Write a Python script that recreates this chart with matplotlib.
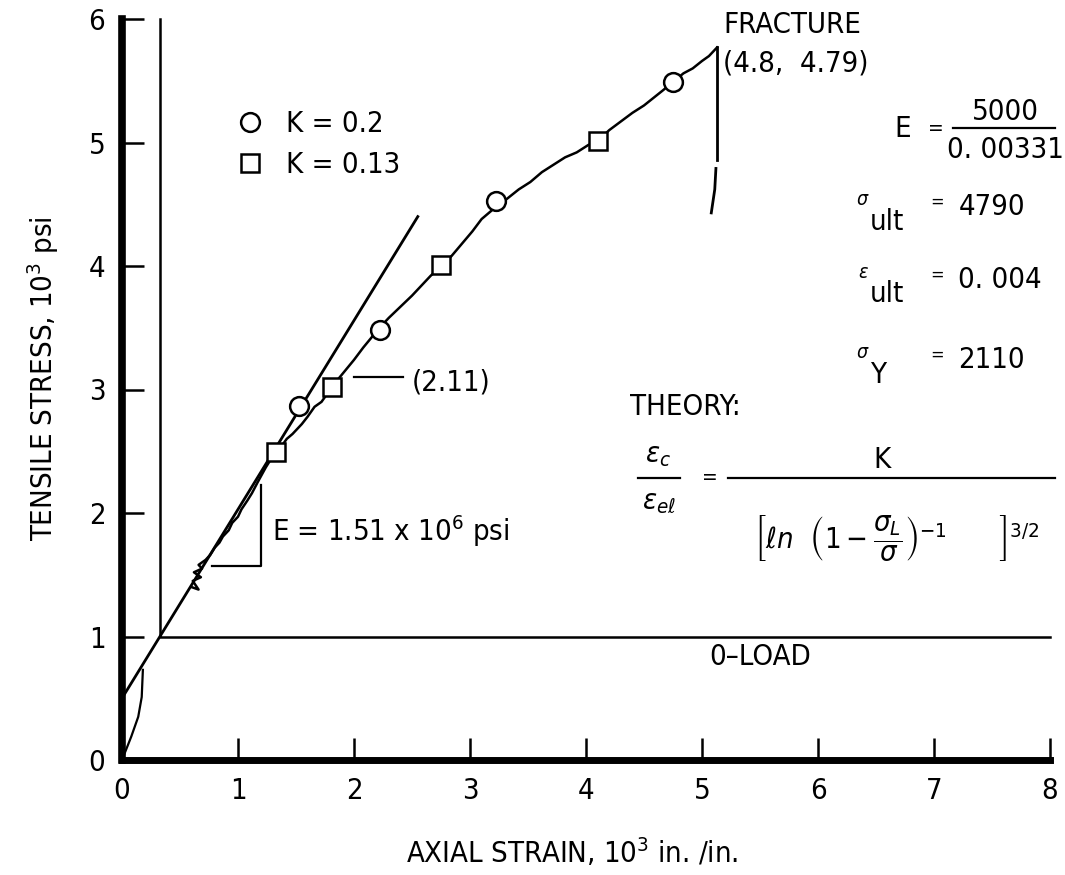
import matplotlib
matplotlib.use("Agg")
import matplotlib.pyplot as plt
from matplotlib import font_manager

# pick a narrow sans face if one is installed (the scanned lettering is condensed)
FONT, STRETCH, FS = 'DejaVu Sans', 'normal', 18
for f in font_manager.fontManager.ttflist:
    if f.style == 'normal' and f.weight in (400, 'normal') and f.stretch in ('condensed', 'semi-condensed'):
        FONT, STRETCH, FS = f.name, f.stretch, 21
        break
plt.rcParams['font.family'] = [FONT, 'DejaVu Sans']
plt.rcParams['font.stretch'] = STRETCH

# toe of the curve near the origin
toe_x = [0.0, 0.08, 0.14, 0.17, 0.18]
toe_y = [0.0, 0.19, 0.35, 0.51, 0.73]

# modulus line E = 1.51 x 10^6 psi
mod_x = [0.0, 2.55]
mod_y = [0.50, 4.40]

# measured stress-strain record (jagged)
strain = [0.60, 0.66, 0.61, 0.68, 0.62, 0.69, 0.66, 0.72, 0.76, 0.80, 0.84, 0.87, 0.92,
          0.95, 1.00, 1.03, 1.08, 1.12, 1.17, 1.24, 1.30, 1.36, 1.42, 1.47, 1.55, 1.60,
          1.66, 1.72, 1.78, 1.86, 1.93, 2.00, 2.08, 2.15, 2.20, 2.30, 2.40, 2.50, 2.58,
          2.66, 2.75, 2.84, 2.93, 3.02, 3.10, 3.20, 3.30, 3.42, 3.52, 3.62, 3.72, 3.82,
          3.92, 4.02, 4.10, 4.20, 4.30, 4.40, 4.50, 4.58, 4.66, 4.75, 4.84, 4.92, 5.00,
          5.06, 5.13]
stress = [1.40, 1.38, 1.45, 1.48, 1.52, 1.55, 1.58, 1.62, 1.66, 1.72, 1.76, 1.81, 1.86,
          1.92, 1.97, 2.03, 2.10, 2.16, 2.25, 2.37, 2.46, 2.52, 2.60, 2.64, 2.72, 2.78,
          2.86, 2.90, 2.98, 3.08, 3.16, 3.24, 3.34, 3.42, 3.48, 3.58, 3.67, 3.76, 3.84,
          3.92, 4.00, 4.08, 4.18, 4.28, 4.38, 4.46, 4.53, 4.62, 4.68, 4.76, 4.82, 4.88,
          4.92, 4.98, 5.01, 5.10, 5.17, 5.24, 5.30, 5.36, 5.42, 5.49, 5.56, 5.60, 5.66,
          5.70, 5.77]

# theory points
k02_x = [1.53, 2.22, 3.22, 4.75]
k02_y = [2.87, 3.48, 4.53, 5.49]
k013_x = [1.33, 1.81, 2.75, 4.10]
k013_y = [2.49, 3.02, 4.01, 5.01]

# reference lines (shifted origin, 0-load)
zero_x = [0.33, 0.33, 8.0]
zero_y = [6.0, 1.0, 1.0]

# fracture bracket
frac1_x = [5.13, 5.13]
frac1_y = [5.77, 4.86]
frac2_x = [5.12, 5.11, 5.08]
frac2_y = [4.79, 4.62, 4.43]

fig = plt.figure(figsize=(10.65, 8.75), dpi=100)
ax = fig.add_axes([122 / 1065, 1 - 760 / 875, 928 / 1065, 741 / 875])
ax.set_xlim(0, 8)
ax.set_ylim(0, 6)

ax.plot(toe_x, toe_y, color='black', lw=1.6)
ax.plot(mod_x, mod_y, color='black', lw=2.0)
ax.plot(strain, stress, color='black', lw=1.8)
ax.plot(zero_x, zero_y, color='black', lw=1.8, clip_on=False)
ax.plot(frac1_x, frac1_y, color='black', lw=2.0)
ax.plot(frac2_x, frac2_y, color='black', lw=2.0)
ax.plot(k02_x, k02_y, 'o', ms=13.5, mfc='white', mec='black', mew=1.8, label='K = 0.2')
ax.plot(k013_x, k013_y, 's', ms=12.5, mfc='white', mec='black', mew=1.8, label='K = 0.13')

ax.legend(loc='upper left', bbox_to_anchor=(0.122, 0.877), frameon=False,
          fontsize=FS, handlelength=1.0, handletextpad=0.75, borderpad=0,
          labelspacing=0.45, borderaxespad=0)

# spines and ticks
for s in ['top', 'right']:
    ax.spines[s].set_visible(False)
ax.spines['left'].set_linewidth(5.5)
ax.spines['bottom'].set_linewidth(5.0)
ax.set_xticks(range(0, 9))
ax.set_yticks(range(0, 7))
ax.tick_params(direction='in', length=16, width=1.8, labelsize=FS, pad=12)

ax.text(-0.085, 0.515, 'TENSILE STRESS, 10$^3$ psi', rotation=90, ha='center',
        va='center', fontsize=FS, transform=ax.transAxes)
ax.text(0.485, -0.125, 'AXIAL STRAIN, 10$^3$ in. /in.', ha='center', va='center',
        fontsize=FS, transform=ax.transAxes)

# slope triangle
ax.plot([0.78, 1.20, 1.20], [1.57, 1.57, 2.23], color='black', lw=1.6)
ax.text(1.29, 1.85, 'E = 1.51 x 10$^6$ psi', fontsize=FS, va='center')

# yield point
ax.plot([2.0, 2.42], [3.10, 3.10], color='black', lw=1.6)
ax.text(2.50, 3.06, '(2.11)', fontsize=FS, va='center')

# fracture
ax.text(5.18, 5.95, 'FRACTURE', fontsize=FS, va='center')
ax.text(5.18, 5.64, '(4.8,  4.79)', fontsize=FS, va='center')

# material constants
ax.text(6.73, 5.11, 'E', fontsize=FS, ha='center', va='center')
ax.text(7.02, 5.11, '=', fontsize=FS - 6, ha='center', va='center')
ax.text(7.62, 5.25, '5000', fontsize=FS, ha='center', va='center', clip_on=False)
ax.plot([7.16, 8.04], [5.12, 5.12], color='black', lw=1.6, clip_on=False)
ax.text(7.62, 4.94, '0. 00331', fontsize=FS, ha='center', va='center', clip_on=False)

rows = [(4.48, '\u03c3', 'ult', '4790'), (3.89, '\u03b5', 'ult', '0. 004'),
        (3.24, '\u03c3', 'Y', '2110')]
for yy, sym, sub, val in rows:
    ax.text(6.43, yy + 0.06, sym, fontsize=FS - 7, style='italic', ha='right', va='center')
    ax.text(6.45, yy - 0.12, sub, fontsize=FS, ha='left', va='center')
    ax.text(7.03, yy + 0.04, '=', fontsize=FS - 8, ha='center', va='center')
    ax.text(7.21, yy, val, fontsize=FS, ha='left', va='center')

# theory
ax.text(4.38, 2.86, 'THEORY:', fontsize=FS, va='center')
ax.text(4.62, 2.47, r'$\epsilon_c$', fontsize=FS, ha='center', va='center')
ax.plot([4.45, 4.81], [2.28, 2.28], color='black', lw=1.6)
ax.text(4.63, 2.09, r'$\epsilon_{e\ell}$', fontsize=FS, ha='center', va='center')
ax.text(5.07, 2.28, '=', fontsize=FS - 6, ha='center', va='center')
ax.text(6.55, 2.43, 'K', fontsize=FS, ha='center', va='center')
ax.plot([5.22, 8.04], [2.28, 2.28], color='black', lw=1.6, clip_on=False)
ax.text(6.68, 1.80,
        r'$\left[\ell n\ \ \left(1-\dfrac{\sigma_L}{\sigma}\right)^{-1}\ \ \ \ \ \ \right]^{3/2}$',
        fontsize=FS, ha='center', va='center', clip_on=False)

ax.text(5.5, 0.83, '0\u2013LOAD', fontsize=FS, ha='center', va='center')

fig.savefig('out.png', dpi=100)
